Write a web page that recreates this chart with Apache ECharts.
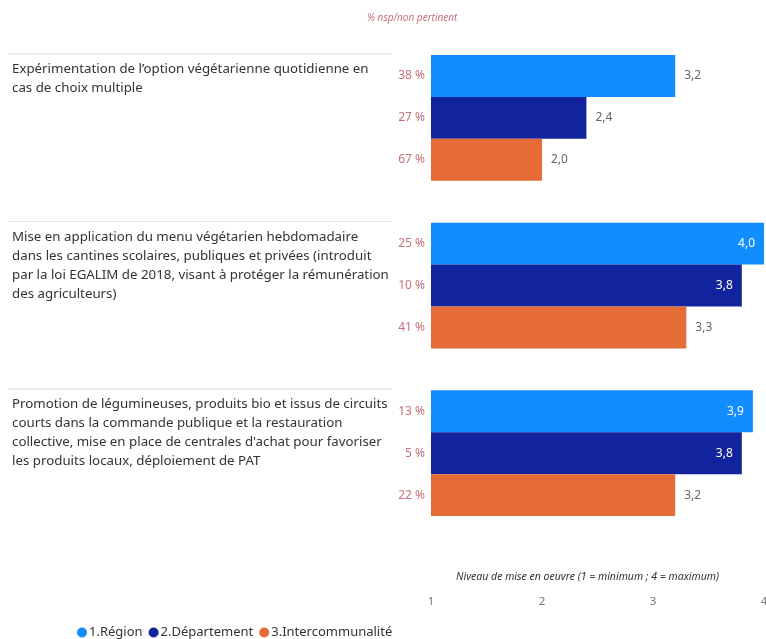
<!DOCTYPE html>
<html>
<head>
<meta charset="utf-8">
<script src="https://cdn.jsdelivr.net/npm/echarts@6/dist/echarts.min.js"></script>
<style>
html,body{margin:0;padding:0;background:#fff;}
#chart{width:766px;height:639px;}
</style>
</head>
<body>
<div id="chart"></div>
<script>
// données
const categories = [
    'Expérimentation de l’option végétarienne quotidienne en\ncas de choix multiple',
    'Mise en application du menu végétarien hebdomadaire\ndans les cantines scolaires, publiques et privées (introduit\npar la loi EGALIM de 2018, visant à protéger la rémunération\ndes agriculteurs)',
    'Promotion de légumineuses, produits bio et issus de circuits\ncourts dans la commande publique et la restauration\ncollective, mise en place de centrales d\'achat pour favoriser\nles produits locaux, déploiement de PAT'
];
const seriesNames = ['1.Région', '2.Département', '3.Intercommunalité'];
const regionValues = [3.2, 4.0, 3.9];
const departementValues = [2.4, 3.8, 3.8];
const intercoValues = [2.0, 3.3, 3.2];
const regionNsp = [38, 25, 13];
const departementNsp = [27, 10, 5];
const intercoNsp = [67, 41, 22];
const xTicks = [1, 2, 3, 4];

const colors = ['#118DFF', '#12239E', '#E66C37'];
const values = [regionValues, departementValues, intercoValues];
const nsp = [regionNsp, departementNsp, intercoNsp];

const fmt = v => v.toFixed(1).replace('.', ',');

const chart = echarts.init(document.getElementById('chart'));

const valueSeries = values.map((arr, i) => ({
    name: seriesNames[i],
    type: 'bar',
    yAxisIndex: 0,
    barGap: 0,
    barCategoryGap: '25%',
    itemStyle: { color: colors[i] },
    label: {
        show: true,
        position: 'right',
        distance: 9,
        color: '#666',
        fontSize: 12,
        fontFamily: 'Noto Sans',
        formatter: p => fmt(p.value)
    },
    // les barres longues ont leur étiquette à l'intérieur
    data: arr.map(v => v >= 3.5
        ? { value: v, label: { position: 'insideRight', color: '#fff', distance: 9 } }
        : v)
}));

const nspSeries = nsp.map((arr, i) => ({
    name: 'nsp' + i,
    type: 'bar',
    yAxisIndex: 1,
    barGap: 0,
    barCategoryGap: '25%',
    silent: true,
    itemStyle: { color: 'rgba(0,0,0,0)' },
    label: {
        show: true,
        position: 'left',
        distance: 6,
        color: '#c9707d',
        fontSize: 12,
        fontFamily: 'Noto Sans',
        formatter: p => arr[p.dataIndex] + ' %'
    },
    data: values[i]
}));

const option = {
    animation: false,
    title: {
        text: '% nsp/non pertinent',
        left: 362,
        top: 8,
        textStyle: { fontSize: 10, fontStyle: 'italic', fontWeight: 'normal', color: '#c9707d', fontFamily: 'Noto Sans' }
    },
    legend: {
        data: seriesNames,
        left: 72,
        top: 621,
        icon: 'circle',
        itemWidth: 10,
        itemHeight: 10,
        itemGap: 6,
        textStyle: { fontSize: 13, color: '#333', fontFamily: 'Noto Sans', padding: [0, 0, 0, -3] }
    },
    grid: {
        left: 431,
        right: 2,
        top: 34,
        bottom: 102,
        outerBoundsMode: 'none'
    },
    xAxis: {
        type: 'value',
        min: xTicks[0],
        max: xTicks[xTicks.length - 1],
        interval: 1,
        name: 'Niveau de mise en oeuvre (1 = minimum ; 4 = maximum)',
        nameLocation: 'middle',
        nameGap: 35,
        nameMoveOverlap: false,
        nameTextStyle: { fontSize: 10.5, fontStyle: 'italic', color: '#333', fontFamily: 'Noto Sans', padding: [0, 20, 0, 0] },
        axisLine: { show: false },
        axisTick: { show: false },
        splitLine: { show: false },
        axisLabel: { margin: 59, color: '#777', fontSize: 11.5, fontFamily: 'Noto Sans' }
    },
    yAxis: [
        {
            type: 'category',
            inverse: true,
            data: categories,
            axisLine: { show: false },
            axisTick: { show: false },
            axisLabel: {
                align: 'left',
                verticalAlign: 'top',
                margin: 423,
                padding: [-64, 0, 0, 0],
                formatter: v => '{line|}\n{sp|}\n{t|' + v + '}',
                rich: {
                    line: { width: 384, height: 0, borderColor: '#e4e4e4', borderWidth: 1 },
                    sp: { height: 6, lineHeight: 6 },
                    t: { fontSize: 13.3, lineHeight: 19, color: '#333', fontFamily: 'Noto Sans', padding: [0, 0, 0, 4] }
                }
            }
        },
        {
            type: 'category',
            inverse: true,
            data: categories,
            show: false
        }
    ],
    series: valueSeries.concat(nspSeries)
};

chart.setOption(option);
</script>
</body>
</html>
